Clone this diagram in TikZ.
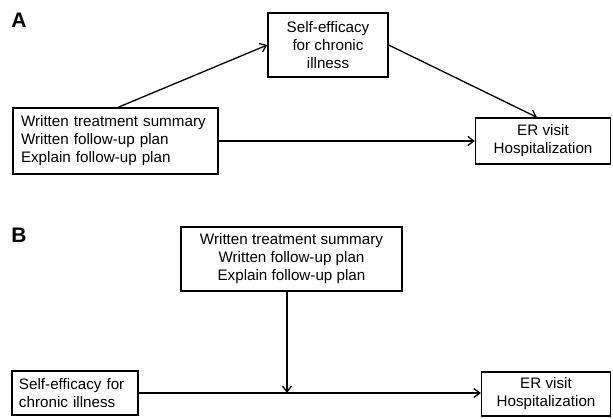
\documentclass[tikz,border=0pt]{standalone}
\usepackage{fontspec}
\setmainfont{Liberation Sans}
\usetikzlibrary{positioning,arrows.meta,calc}

\begin{document}
\begin{tikzpicture}[
  x=1pt, y=-1pt,
  every node/.style={font=\fontsize{15.2}{18}\selectfont},
  box/.style={draw, line width=1.3pt, inner sep=0pt},
  link/.style={line width=1.3pt, -{Straight Barb[length=6pt,width=9pt,line width=1.3pt]}},
  panel/.style={font=\fontsize{21}{22}\selectfont\bfseries}
]
  \useasboundingbox (0,0) rectangle (613,418);

  % panel A
  \node[panel] (labA) at (19,20) {A};
  \node[box, text width=189pt, minimum height=66pt, inner xsep=8pt, align=left] (txA) at (115.5,141)
    {Written treatment summary\\Written follow-up plan\\Explain follow-up plan};
  \node[box, minimum width=120pt, minimum height=64pt, align=center] (seA) at (328,45)
    {Self-efficacy\\for chronic\\illness};
  \node[box, minimum width=135pt, minimum height=46pt, align=center] (erA) at (543,141)
    {ER visit\\Hospitalization};

  \draw[link] ([xshift=2.5pt]txA.north) -- (seA.west);
  \draw[link] (seA.east) -- ([xshift=-6pt]erA.north);
  \draw[link] (txA.east) -- (erA.west);

  % panel B
  \node[panel] (labB) at (19,235) {B};
  \node[box, minimum width=221pt, minimum height=64pt, align=center] (txB) at (291.5,259)
    {Written treatment summary\\Written follow-up plan\\Explain follow-up plan};
  \node[box, text width=112pt, minimum height=44pt, inner xsep=7pt, align=left] (seB) at (75,393)
    {Self-efficacy for\\chronic illness};
  \node[box, minimum width=129pt, minimum height=44pt, align=center] (erB) at (546,394)
    {ER visit\\Hospitalization};

  \coordinate (mod) at ([xshift=-4.5pt]txB.south |- seB.east);
  \draw[link] (seB.east) -- (erB.west |- seB.east);
  \draw[link] ([xshift=-4.5pt]txB.south) -- (mod);
\end{tikzpicture}
\end{document}
